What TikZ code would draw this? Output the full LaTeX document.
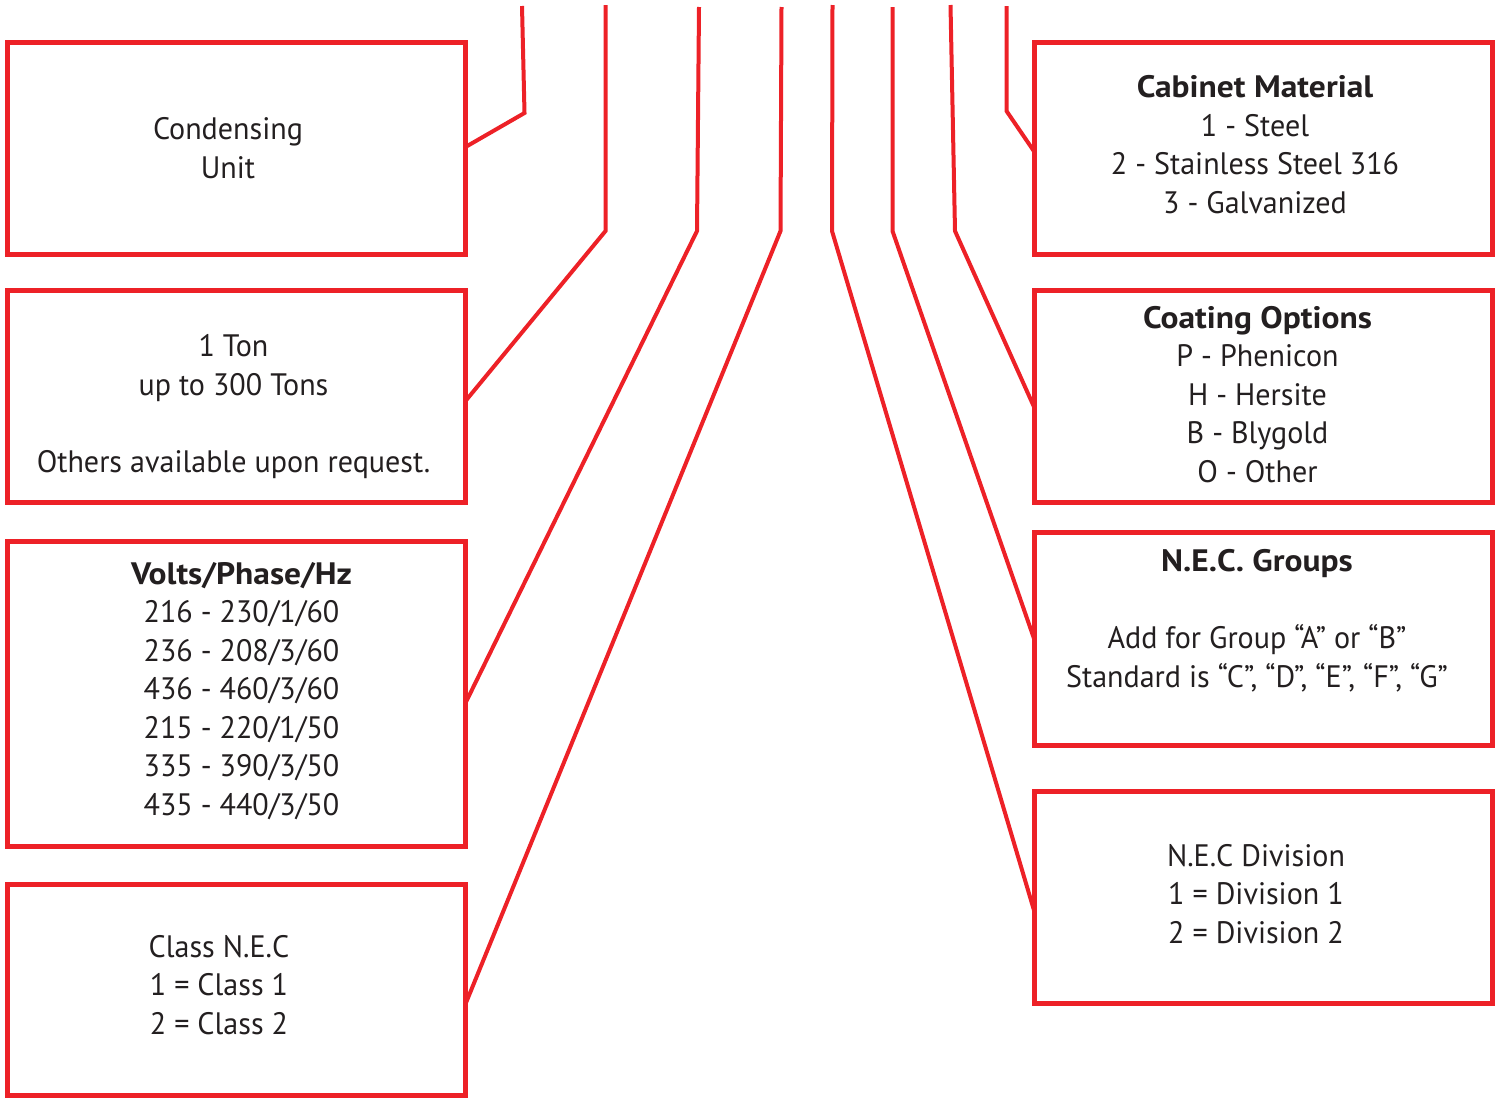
\documentclass[tikz,border=0pt]{standalone}
\usepackage{fontspec}
\setmainfont{PT Sans}[FakeStretch=0.97, BoldFeatures={FakeStretch=1.08}]
\definecolor{boxred}{RGB}{237,33,39}
\definecolor{txtgrey}{RGB}{35,31,32}
\begin{document}
\begin{tikzpicture}[x=1pt,y=-1pt,
  boxnode/.style={draw=boxred, line width=5pt, rectangle, inner sep=0pt, outer sep=0pt, minimum width=458pt},
  conn/.style={draw=boxred, line width=4pt, line join=miter},
  lbl/.style={text=txtgrey, align=center, font=\fontsize{31}{38.5}\selectfont, inner sep=0pt, anchor=base}]
\useasboundingbox (0,0) rectangle (1502,1098);
% left boxes
\node[boxnode, minimum height=212pt] (b1) at (236.5,148) {};
\node[boxnode, minimum height=212pt] (b2) at (236.5,396) {};
\node[boxnode, minimum height=305pt] (b3) at (236.5,693.5) {};
\node[boxnode, minimum height=211pt] (b4) at (236.5,989.5) {};
% right boxes
\node[boxnode, minimum height=212pt] (r1) at (1263.5,148) {};
\node[boxnode, minimum height=212pt] (r2) at (1263.5,396) {};
\node[boxnode, minimum height=213pt] (r3) at (1263.5,638.5) {};
\node[boxnode, minimum height=212pt] (r4) at (1263.5,897) {};
% texts (anchor = baseline of the last line)
\node[lbl] (tb1) at (228,178) {Condensing\\Unit};
\node[lbl] (tb2) at (233.5,472) {1 Ton\\up to 300 Tons\\[38.5pt]Others available upon request.};
\node[lbl] (tb3) at (241.5,815) {\textbf{Volts/Phase/Hz}\\216 - 230/1/60\\236 - 208/3/60\\436 - 460/3/60\\215 - 220/1/50\\335 - 390/3/50\\435 - 440/3/50};
\node[lbl] (tb4) at (219,1034) {Class N.E.C\\1 = Class 1\\2 = Class 2};
\node[lbl] (tr1) at (1255,213) {\textbf{Cabinet Material}\\1 - Steel\\2 - Stainless Steel 316\\3 - Galvanized};
\node[lbl] (tr2) at (1257.5,482) {\textbf{Coating Options}\\P - Phenicon\\H - Hersite\\B - Blygold\\O - Other};
\node[lbl] (tr3) at (1257,687) {\textbf{N.E.C. Groups}\\[38.5pt]Add for Group “A” or “B”\\Standard is “C”, “D”, “E”, “F”, “G”};
\node[lbl] (tr4) at (1256,943) {N.E.C Division\\1 = Division 1\\2 = Division 2};
% connector ends and bends
\coordinate (t1) at (522,6);   \coordinate (k1) at (524.5,113);
\coordinate (t2) at (605.5,5); \coordinate (k2) at (605.5,231);
\coordinate (t3) at (699,7);   \coordinate (k3) at (697,231);
\coordinate (t4) at (781.5,7); \coordinate (k4) at (780.5,231);
\coordinate (t5) at (832.5,5); \coordinate (k5) at (832,231);
\coordinate (t6) at (892.5,7); \coordinate (k6) at (892.5,231);
\coordinate (t7) at (950.5,5); \coordinate (k7) at (955,231);
\coordinate (t8) at (1006.5,6);\coordinate (k8) at (1006.5,111);
\draw[conn] (t1) -- (k1) -- (b1.east |- 0,147);
\draw[conn] (t2) -- (k2) -- (b2.east |- 0,401);
\draw[conn] (t3) -- (k3) -- (b3.east |- 0,703);
\draw[conn] (t4) -- (k4) -- (b4.east |- 0,1004);
\draw[conn] (t5) -- (k5) -- (r4.west |- 0,912);
\draw[conn] (t6) -- (k6) -- (r3.west |- 0,640);
\draw[conn] (t7) -- (k7) -- (r2.west |- 0,408);
\draw[conn] (t8) -- (k8) -- (r1.west |- 0,152);
\end{tikzpicture}
\end{document}
